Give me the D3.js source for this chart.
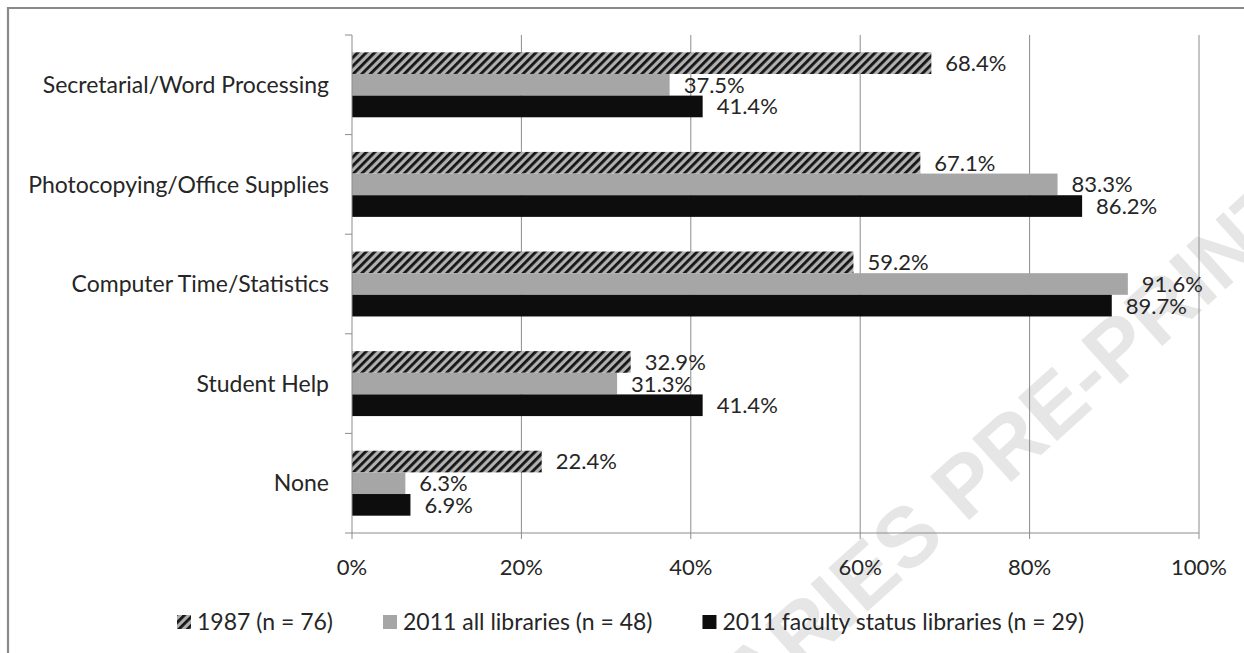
<!DOCTYPE html>
<html>
<head>
<meta charset="utf-8">
<script src="https://cdn.jsdelivr.net/npm/d3@7"></script>
<style>
  body { margin: 0; background: #fff; }
  text { font-family: Lato, "Open Sans", sans-serif; fill: #262626; }
</style>
</head>
<body>
<script>
// values (percent)
const categories = ["Secretarial/Word Processing", "Photocopying/Office Supplies", "Computer Time/Statistics", "Student Help", "None"];
const seriesNames = ["1987 (n = 76)", "2011 all libraries (n = 48)", "2011 faculty status libraries (n = 29)"];
const values1987 = [68.4, 67.1, 59.2, 32.9, 22.4];
const valuesAll2011 = [37.5, 83.3, 91.6, 31.3, 6.3];
const valuesFaculty2011 = [41.4, 86.2, 89.7, 41.4, 6.9];
const xTicks = [0, 20, 40, 60, 80, 100];
const watermark = "LIBRARIES PRE-PRINT";

const W = 1244, H = 653;
const plot = {left: 352, right: 1199, top: 35, bottom: 533};

const seriesValues = [values1987, valuesAll2011, valuesFaculty2011];
const fills = ["url(#hatch)", "#a6a6a6", "#0d0d0d"];

const svg = d3.select("body").append("svg")
  .attr("width", W)
  .attr("height", H);

const defs = svg.append("defs");
const pat = defs.append("pattern")
  .attr("id", "hatch")
  .attr("patternUnits", "userSpaceOnUse")
  .attr("width", 6)
  .attr("height", 6)
  .attr("patternTransform", "rotate(45)");
pat.append("rect").attr("width", 6).attr("height", 6).attr("fill", "#b0b0b0");
pat.append("rect").attr("width", 2.8).attr("height", 6).attr("fill", "#141414");

// watermark, behind everything
svg.append("text")
  .attr("transform", "translate(607,846) rotate(-42)")
  .style("font-family", "'Liberation Sans', Arial, sans-serif")
  .style("font-weight", "bold")
  .style("font-size", "85px")
  .style("fill", "#e6e6e6")
  .text(watermark);

// outer frame (only top and left edges show)
svg.append("path")
  .attr("d", "M8," + H + "V8H" + W)
  .attr("fill", "none")
  .attr("stroke", "#8a8a8a")
  .attr("stroke-width", 2.2);

const x = d3.scaleLinear()
  .domain([0, 100])
  .range([plot.left, plot.right]);

const y = d3.scaleBand()
  .domain(categories)
  .range([plot.top, plot.bottom]);

const ySub = d3.scaleBand()
  .domain(d3.range(seriesNames.length))
  .range([0, y.bandwidth()])
  .paddingOuter(0.8);

// vertical gridlines
svg.append("g")
  .attr("class", "grid")
  .selectAll("line")
  .data(xTicks.slice(1))
  .enter().append("line")
  .attr("x1", d => x(d)).attr("x2", d => x(d))
  .attr("y1", plot.top).attr("y2", plot.bottom)
  .attr("stroke", "#8c8c8c")
  .attr("stroke-width", 1);

// bars
const rows = categories.map((c, i) => ({cat: c, vals: seriesValues.map(s => s[i])}));
const groups = svg.append("g").attr("class", "bars")
  .selectAll("g")
  .data(rows)
  .enter().append("g")
  .attr("transform", d => "translate(0," + y(d.cat) + ")");

groups.selectAll("rect")
  .data(d => d.vals)
  .enter().append("rect")
  .attr("x", x(0))
  .attr("y", (d, j) => ySub(j))
  .attr("width", d => x(d) - x(0))
  .attr("height", ySub.bandwidth())
  .attr("fill", (d, j) => fills[j]);

groups.selectAll("text")
  .data(d => d.vals)
  .enter().append("text")
  .attr("x", d => x(d) + 14)
  .attr("y", (d, j) => ySub(j) + ySub.bandwidth() / 2)
  .attr("dy", "0.36em")
  .style("font-size", "22px")
  .text(d => d.toFixed(1) + "%");

// left axis
const yAxis = svg.append("g").attr("class", "y axis");
yAxis.append("line")
  .attr("x1", plot.left).attr("x2", plot.left)
  .attr("y1", plot.top).attr("y2", plot.bottom)
  .attr("stroke", "#8c8c8c");
const yEdges = categories.map(c => y(c)).concat([plot.bottom]);
yAxis.selectAll(".tick")
  .data(yEdges)
  .enter().append("line")
  .attr("class", "tick")
  .attr("x1", plot.left - 7).attr("x2", plot.left)
  .attr("y1", d => d).attr("y2", d => d)
  .attr("stroke", "#8c8c8c");
yAxis.selectAll("text")
  .data(categories)
  .enter().append("text")
  .attr("x", 329)
  .attr("y", d => y(d) + y.bandwidth() / 2)
  .attr("dy", "0.36em")
  .attr("text-anchor", "end")
  .style("font-size", "23px")
  .text(d => d);

// bottom axis
const xAxis = svg.append("g").attr("class", "x axis");
xAxis.append("line")
  .attr("x1", plot.left).attr("x2", plot.right)
  .attr("y1", plot.bottom).attr("y2", plot.bottom)
  .attr("stroke", "#8c8c8c");
xAxis.selectAll(".tick")
  .data(xTicks)
  .enter().append("line")
  .attr("class", "tick")
  .attr("x1", d => x(d)).attr("x2", d => x(d))
  .attr("y1", plot.bottom).attr("y2", plot.bottom + 6)
  .attr("stroke", "#8c8c8c");
xAxis.selectAll("text")
  .data(xTicks)
  .enter().append("text")
  .attr("x", d => x(d))
  .attr("y", 567)
  .attr("dy", "0.36em")
  .attr("text-anchor", "middle")
  .style("font-size", "22px")
  .text(d => d + "%");

// legend
const legende = svg.append("g").attr("class", "legende");
let lx = 177;
seriesNames.forEach((name, j) => {
  legende.append("rect")
    .attr("x", lx).attr("y", 615)
    .attr("width", 14).attr("height", 14)
    .attr("fill", fills[j]);
  const t = legende.append("text")
    .attr("x", lx + 20).attr("y", 622)
    .attr("dy", "0.36em")
    .style("font-size", "23px")
    .text(name);
  lx += 20 + t.node().getComputedTextLength() + 50;
});
</script>
</body>
</html>
